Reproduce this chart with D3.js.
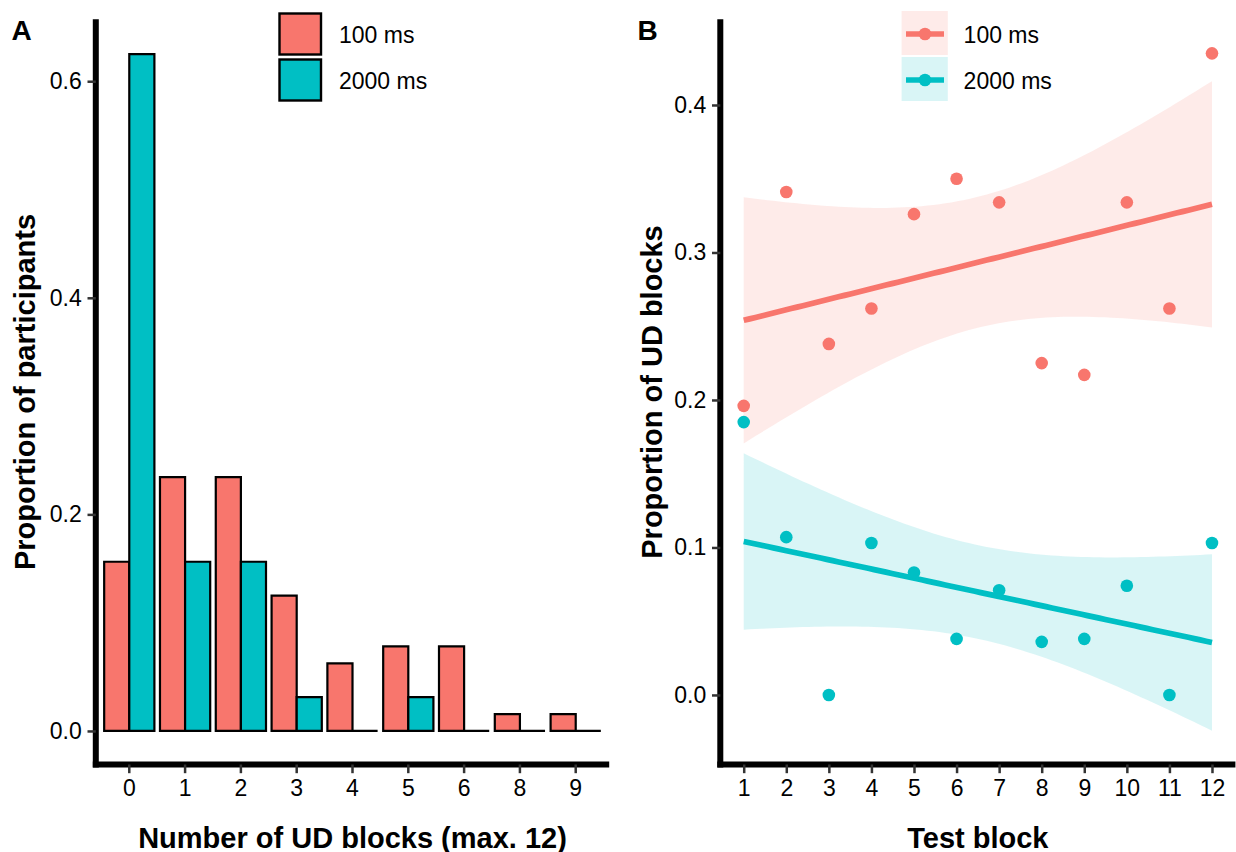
<!DOCTYPE html>
<html><head><meta charset="utf-8">
<script src="https://cdn.jsdelivr.net/npm/d3@7"></script>
<style>
body{margin:0;background:#fff}
svg{display:block}
text{font-family:"Liberation Sans",Arial,Helvetica,sans-serif;fill:#000}
</style>
</head><body>
<svg id="chart" width="1236" height="852"></svg>
<script>
// ---------- data ----------
const groups = ["100 ms", "2000 ms"];
const groupColors = ["#F8766D", "#00BFC4"];
const ribbonColors = ["rgba(248,118,109,0.15)", "rgba(0,191,196,0.15)"];

// Panel A: distribution of number of UD blocks
const udCategories = ["0", "1", "2", "3", "4", "5", "6", "8", "9"];
const prop100 = [0.15625, 0.234375, 0.234375, 0.125, 0.0625, 0.078125, 0.078125, 0.015625, 0.015625];
const prop2000 = [0.625, 0.15625, 0.15625, 0.03125, 0, 0.03125, 0, 0, 0];
const yTicksA = [0, 0.2, 0.4, 0.6];

// Panel B: proportion of UD blocks per test block
const testBlocks = [1, 2, 3, 4, 5, 6, 7, 8, 9, 10, 11, 12];
const ud100 = [0.196, 0.341, 0.238, 0.262, 0.326, 0.350, 0.334, 0.225, 0.217, 0.334, 0.262, 0.435];
const ud2000 = [0.185, 0.107, 0.0, 0.103, 0.083, 0.038, 0.071, 0.036, 0.038, 0.074, 0.0, 0.103];
const yTicksB = [0, 0.1, 0.2, 0.3, 0.4];
const tCrit = 2.228139; // t(0.975, df = 10)

// ---------- helpers ----------
const svg = d3.select("#chart");
const AXIS_W = 6;
const TICK_FS = "23px", TITLE_FS = "29px";

function styleAxis(g) {
  g.select(".domain").remove();
  g.selectAll(".tick line").attr("stroke", "#333").attr("stroke-width", 2.5);
  g.selectAll(".tick text").attr("font-size", TICK_FS).attr("fill", "#000")
    .attr("font-family", '"Liberation Sans",Arial,sans-serif');
}

function drawFrame(x0, x1, yTop, yBot) {
  svg.append("path").attr("d", `M${x0},${yTop}V${yBot + AXIS_W / 2}`)
    .attr("stroke", "#000").attr("stroke-width", AXIS_W).attr("fill", "none");
  svg.append("path").attr("d", `M${x0 - AXIS_W / 2},${yBot}H${x1}`)
    .attr("stroke", "#000").attr("stroke-width", AXIS_W).attr("fill", "none");
}

function fitLm(xs, ys) {
  const n = xs.length, mx = d3.mean(xs), my = d3.mean(ys);
  let sxx = 0, sxy = 0;
  xs.forEach((x, i) => { sxx += (x - mx) ** 2; sxy += (x - mx) * (ys[i] - my); });
  const b = sxy / sxx, a = my - b * mx;
  let sse = 0;
  xs.forEach((x, i) => { sse += (ys[i] - (a + b * x)) ** 2; });
  const s = Math.sqrt(sse / (n - 2));
  const grid = d3.range(0, 80).map(i => xs[0] + (xs[n - 1] - xs[0]) * i / 79);
  return grid.map(x => {
    const fit = a + b * x;
    const se = s * Math.sqrt(1 / n + (x - mx) ** 2 / sxx);
    return { x, fit, lo: fit - tCrit * se, hi: fit + tCrit * se };
  });
}

// ================= Panel A =================
const axA = { left: 95.8, right: 609.2, top: 20.3, bottom: 764.8 };
const xA = d3.scaleBand().domain(udCategories).range([axA.left, axA.right])
  .paddingInner(0.1).paddingOuter(0.15);
const xAsub = d3.scaleBand().domain(groups).range([0, xA.bandwidth()]);
const maxA = d3.max(prop100.concat(prop2000));
const yA = d3.scaleLinear().domain([-0.05 * maxA, maxA * 1.05]).range([axA.bottom, axA.top]);

const barData = [];
udCategories.forEach((c, i) => {
  barData.push({ cat: c, g: groups[0], v: prop100[i], col: groupColors[0] });
  barData.push({ cat: c, g: groups[1], v: prop2000[i], col: groupColors[1] });
});
svg.append("g").selectAll("path").data(barData).join("path")
  .attr("d", d => {
    const x0 = xA(d.cat) + xAsub(d.g), x1 = x0 + xAsub.bandwidth();
    const y0 = yA(0), y1 = yA(d.v);
    return `M${x0},${y0}H${x1}V${y1}H${x0}Z`;
  })
  .attr("fill", d => d.col).attr("stroke", "#000").attr("stroke-width", 2.2)
  .attr("stroke-linejoin", "miter");

drawFrame(axA.left, axA.right, 19.3, 764.5);

svg.append("g").attr("transform", `translate(0,764.5)`)
  .call(d3.axisBottom(xA).tickSize(8.7).tickPadding(6))
  .call(styleAxis);
svg.append("g").attr("transform", `translate(${axA.left},0)`)
  .call(d3.axisLeft(yA).tickValues(yTicksA).tickFormat(d3.format(".1f")).tickSize(8.3).tickPadding(5.8))
  .call(styleAxis);

svg.append("text").attr("x", (axA.left + axA.right) / 2).attr("y", 847.5)
  .attr("text-anchor", "middle").attr("font-size", TITLE_FS).attr("font-weight", "bold")
  .text("Number of UD blocks (max. 12)");
svg.append("text").attr("transform", `translate(35,392) rotate(-90)`)
  .attr("text-anchor", "middle").attr("font-size", TITLE_FS).attr("font-weight", "bold")
  .text("Proportion of participants");
svg.append("text").attr("x", 11.5).attr("y", 40).attr("font-size", "28px")
  .attr("font-weight", "bold").text("A");

// legend A
const legA = svg.append("g");
groups.forEach((g, i) => {
  legA.append("rect").attr("x", 279.5).attr("y", 13.5 + i * 46).attr("width", 41.5).attr("height", 41)
    .attr("fill", groupColors[i]).attr("stroke", "#000").attr("stroke-width", 2.4);
  legA.append("text").attr("x", 339).attr("y", 43.3 + i * 46).attr("font-size", "23px").text(g);
});

// ================= Panel B =================
const axB = { left: 720.3, right: 1235.4, top: 19.5, bottom: 764.5 };
const fits = [fitLm(testBlocks, ud100), fitLm(testBlocks, ud2000)];
const allB = ud100.concat(ud2000)
  .concat(fits[0].flatMap(d => [d.lo, d.hi])).concat(fits[1].flatMap(d => [d.lo, d.hi]));
const [minB, maxB] = d3.extent(allB);
const padB = (maxB - minB) * 0.05;
const yB = d3.scaleLinear().domain([minB - padB, maxB + padB]).range([axB.bottom, axB.top]);
const padX = (d3.max(testBlocks) - d3.min(testBlocks)) * 0.05;
const xB = d3.scaleLinear().domain([d3.min(testBlocks) - padX, d3.max(testBlocks) + padX])
  .range([axB.left, axB.right]);

const area = d3.area().x(d => xB(d.x)).y0(d => yB(d.lo)).y1(d => yB(d.hi));
const line = d3.line().x(d => xB(d.x)).y(d => yB(d.fit));
fits.forEach((f, i) => {
  svg.append("path").attr("d", area(f)).attr("fill", ribbonColors[i]).attr("stroke", "none");
});
fits.forEach((f, i) => {
  svg.append("path").attr("d", line(f)).attr("fill", "none")
    .attr("stroke", groupColors[i]).attr("stroke-width", 5.7);
});
[ud100, ud2000].forEach((vals, i) => {
  svg.append("g").selectAll("circle").data(vals).join("circle")
    .attr("cx", (d, j) => xB(testBlocks[j])).attr("cy", d => yB(d)).attr("r", 6.3)
    .attr("fill", groupColors[i]);
});

drawFrame(axB.left, axB.right, 19.3, 764.5);
svg.append("g").attr("transform", `translate(0,764.5)`)
  .call(d3.axisBottom(xB).tickValues(testBlocks).tickFormat(d3.format("d")).tickSize(8.7).tickPadding(6))
  .call(styleAxis);
svg.append("g").attr("transform", `translate(${axB.left},0)`)
  .call(d3.axisLeft(yB).tickValues(yTicksB).tickFormat(d3.format(".1f")).tickSize(8.3).tickPadding(5.8))
  .call(styleAxis);

svg.append("text").attr("x", (axB.left + axB.right) / 2).attr("y", 847.5)
  .attr("text-anchor", "middle").attr("font-size", TITLE_FS).attr("font-weight", "bold")
  .text("Test block");
svg.append("text").attr("transform", `translate(661.5,392) rotate(-90)`)
  .attr("text-anchor", "middle").attr("font-size", TITLE_FS).attr("font-weight", "bold")
  .text("Proportion of UD blocks");
svg.append("text").attr("x", 637.5).attr("y", 40).attr("font-size", "28px")
  .attr("font-weight", "bold").text("B");

// legend B
const legB = svg.append("g");
groups.forEach((g, i) => {
  const y0 = 11 + i * 46;
  legB.append("rect").attr("x", 901.6).attr("y", y0).attr("width", 46.2).attr("height", 44)
    .attr("fill", ribbonColors[i]);
  legB.append("line").attr("x1", 906).attr("x2", 944).attr("y1", y0 + 23).attr("y2", y0 + 23)
    .attr("stroke", groupColors[i]).attr("stroke-width", 5.7);
  legB.append("circle").attr("cx", 925).attr("cy", y0 + 23).attr("r", 6.3).attr("fill", groupColors[i]);
  legB.append("text").attr("x", 963.6).attr("y", 43.3 + i * 46).attr("font-size", "23px").text(g);
});
</script>
</body></html>
